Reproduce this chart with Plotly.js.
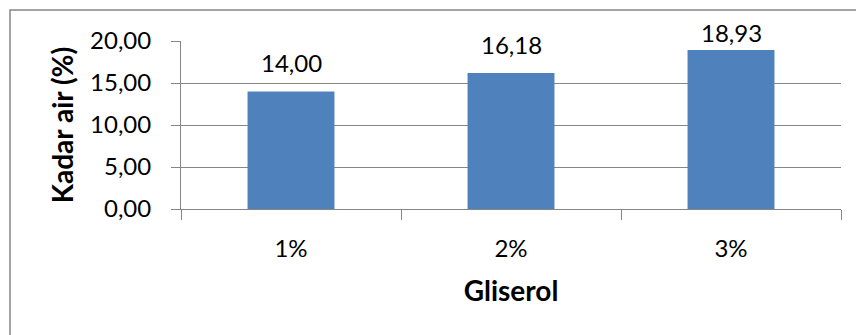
<!DOCTYPE html>
<html>
<head>
<meta charset="utf-8">
<script src="https://cdn.plot.ly/plotly-3.0.1.min.js"></script>
<style>
  html, body { margin: 0; padding: 0; background: #ffffff; }
  #chart { width: 856px; height: 335px; }
</style>
</head>
<body>
<div id="chart"></div>
<script>
// Water content (Kadar air) by glycerol concentration
const categories = ['1%', '2%', '3%'];
const kadarAir = [14.00, 16.18, 18.93];
const yTickValues = [0, 5, 10, 15, 20];
const yTickLabels = ['0,00', '5,00', '10,00', '15,00', '20,00'];

const FONT = 'Lato, "Open Sans", sans-serif';
const TICK_SIZE = 24;
const TITLE_SIZE = 28;
const W = 856, H = 335;
const M = { l: 181, r: 15, t: 41, b: 125.5 };
const plotH = H - M.t - M.b;
const Y_MAX = 20;

// decimal comma, two places
const fmt = v => v.toFixed(2).replace('.', ',');

// value labels sit above each bar, but never above the top of the chart area
const labelGap = 28.5;
const minCenterPx = 33;
const annotations = categories.map((c, i) => {
  const v = kadarAir[i];
  const barTopPx = M.t + plotH * (1 - v / Y_MAX);
  const centerPx = Math.max(barTopPx - labelGap, minCenterPx);
  return {
    x: c, y: v, xref: 'x', yref: 'y',
    text: fmt(v), showarrow: false,
    yanchor: 'middle', yshift: barTopPx - centerPx,
    font: { family: FONT, size: TICK_SIZE, color: '#000000' }
  };
});

const trace = {
  type: 'bar',
  x: categories,
  y: kadarAir,
  width: 0.395,
  marker: { color: '#4F81BD', line: { width: 0 } },
  hoverinfo: 'skip'
};

const layout = {
  width: W, height: H,
  margin: M,
  paper_bgcolor: '#ffffff',
  plot_bgcolor: '#ffffff',
  showlegend: false,
  font: { family: FONT, size: TICK_SIZE, color: '#000000' },
  xaxis: {
    type: 'category',
    range: [-0.5, 2.5],
    showline: true, linecolor: '#868686', linewidth: 1,
    ticks: 'outside', tickson: 'boundaries', ticklen: 10, tickcolor: '#868686', tickwidth: 1,
    showgrid: false, zeroline: false,
    ticklabelstandoff: 18,
    tickfont: { family: FONT, size: TICK_SIZE, color: '#000000' },
    title: { text: 'Gliserol', standoff: 20, font: { family: FONT, size: TITLE_SIZE, color: '#000000', weight: 'bold' } }
  },
  yaxis: {
    range: [0, Y_MAX],
    tickvals: yTickValues, ticktext: yTickLabels,
    showline: true, linecolor: '#868686', linewidth: 1,
    ticks: 'outside', ticklen: 9, tickcolor: '#868686', tickwidth: 1,
    showgrid: true, gridcolor: '#868686', gridwidth: 1,
    zeroline: false,
    ticklabelstandoff: 15,
    tickfont: { family: FONT, size: TICK_SIZE, color: '#000000' },
    title: { text: 'Kadar air (%)', standoff: 8, font: { family: FONT, size: TITLE_SIZE, color: '#000000', weight: 'bold' } }
  },
  annotations: annotations,
  shapes: [{
    // chart frame
    type: 'rect', xref: 'paper', yref: 'paper',
    x0: (10 - M.l) / (W - M.l - M.r), x1: (W + 20 - M.l) / (W - M.l - M.r),
    y0: -(H + 20 - M.t - plotH) / plotH, y1: (H - 10 - M.b) / plotH,
    line: { color: '#868686', width: 1.5 }, fillcolor: 'rgba(0,0,0,0)', layer: 'below'
  }]
};

Plotly.newPlot('chart', [trace], layout, { displayModeBar: false, staticPlot: true });
</script>
</body>
</html>
